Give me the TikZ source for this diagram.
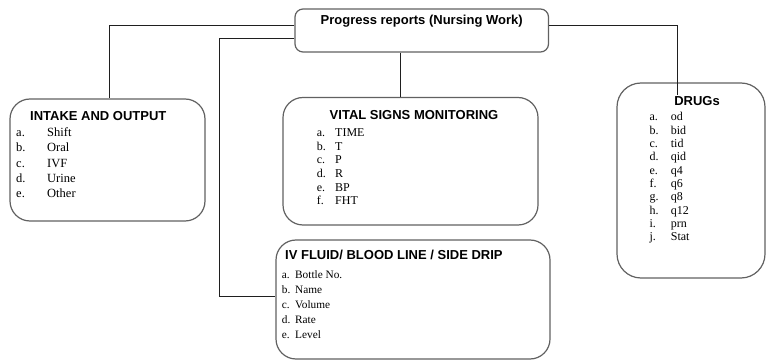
\documentclass[tikz,border=0pt]{standalone}
\usepackage{fontspec}
\setmainfont{Liberation Serif}
\newfontfamily\headfont{Liberation Sans}
\usetikzlibrary{calc}

\tikzset{
  box/.style={draw=black!62, line width=1.2pt, fill=white, inner sep=0pt},
  link/.style={draw=black!88, line width=0.9pt},
  heading/.style={inner sep=0pt, font=\headfont\bfseries\fontsize{13}{15}\selectfont},
  items/.style={inner sep=0pt, anchor=base west}
}

% item list: #1 label column width, #2 font size, #3 line distance, #4 rows
\newcommand\itemlist[4]{{\fontsize{#2}{#3}\selectfont
  \begin{tabular}[t]{@{}p{#1}@{}l@{}}#4\end{tabular}}}

\begin{document}
\begin{tikzpicture}[x=1pt, y=-1pt]
\useasboundingbox (0,0) rectangle (766,363);

% boxes
\node[box, rounded corners=8pt, minimum width=253.5pt, minimum height=43pt] (top) at (421.75,30.5) {};
\node[box, rounded corners=20pt, minimum width=195pt, minimum height=122pt] (io) at (107.5,160) {};
\node[box, rounded corners=20pt, minimum width=255pt, minimum height=127.5pt] (vs) at (410.5,161.25) {};
\node[box, rounded corners=24pt, minimum width=148pt, minimum height=195pt] (dr) at (691,180.5) {};
\node[box, rounded corners=20pt, minimum width=274pt, minimum height=119pt] (iv) at (413,299.5) {};

% connectors
\coordinate (elbow) at (219.3,296);
\coordinate (drugend) at (677.3,95);
\draw[link] ([yshift=-17pt]top.north west) -| ([xshift=1.8pt]io.north);
\draw[link] ([yshift=-30pt]top.north west) -| (elbow) -- (elbow -| iv.west);
\draw[link] ([yshift=-17pt]top.north east) -| (drugend);
\draw[link] ([xshift=-21.75pt]top.south) -- ([xshift=-21.75pt]top.south |- vs.north);

% headings
\node[heading, anchor=base] (toptitle) at (421.7,25) {Progress reports (Nursing Work)};
\node[heading, anchor=base west] (iotitle) at (30,120.7) {INTAKE AND OUTPUT};
\node[heading, anchor=base] (vstitle) at (414,119.3) {VITAL SIGNS MONITORING};
\node[heading, anchor=base] (drtitle) at (697,105.7) {DRUGs};
\node[heading, anchor=base west] (ivtitle) at (285,260) {IV FLUID/ BLOOD LINE / SIDE DRIP};

% lists
\node[items] (iolist) at (16,136.7) {\itemlist{31pt}{12.5}{15.3}{
  a. & Shift\\ b. & Oral\\ c. & IVF\\ d. & Urine\\ e. & Other}};
\node[items] (vslist) at (316.7,136.7) {\itemlist{18.3pt}{12}{13.6}{
  a. & TIME\\ b. & T\\ c. & P\\ d. & R\\ e. & BP\\ f. & FHT}};
\node[items] (drlist) at (649.3,120.7) {\itemlist{21.4pt}{12}{13.33}{
  a. & od\\ b. & bid\\ c. & tid\\ d. & qid\\ e. & q4\\ f. & q6\\ g. & q8\\ h. & q12\\ i. & prn\\ j. & Stat}};
\node[items] (ivlist) at (281.7,278.3) {\itemlist{13.3pt}{11.3}{15}{
  a. & Bottle No.\\ b. & Name\\ c. & Volume\\ d. & Rate\\ e. & Level}};
\end{tikzpicture}
\end{document}
